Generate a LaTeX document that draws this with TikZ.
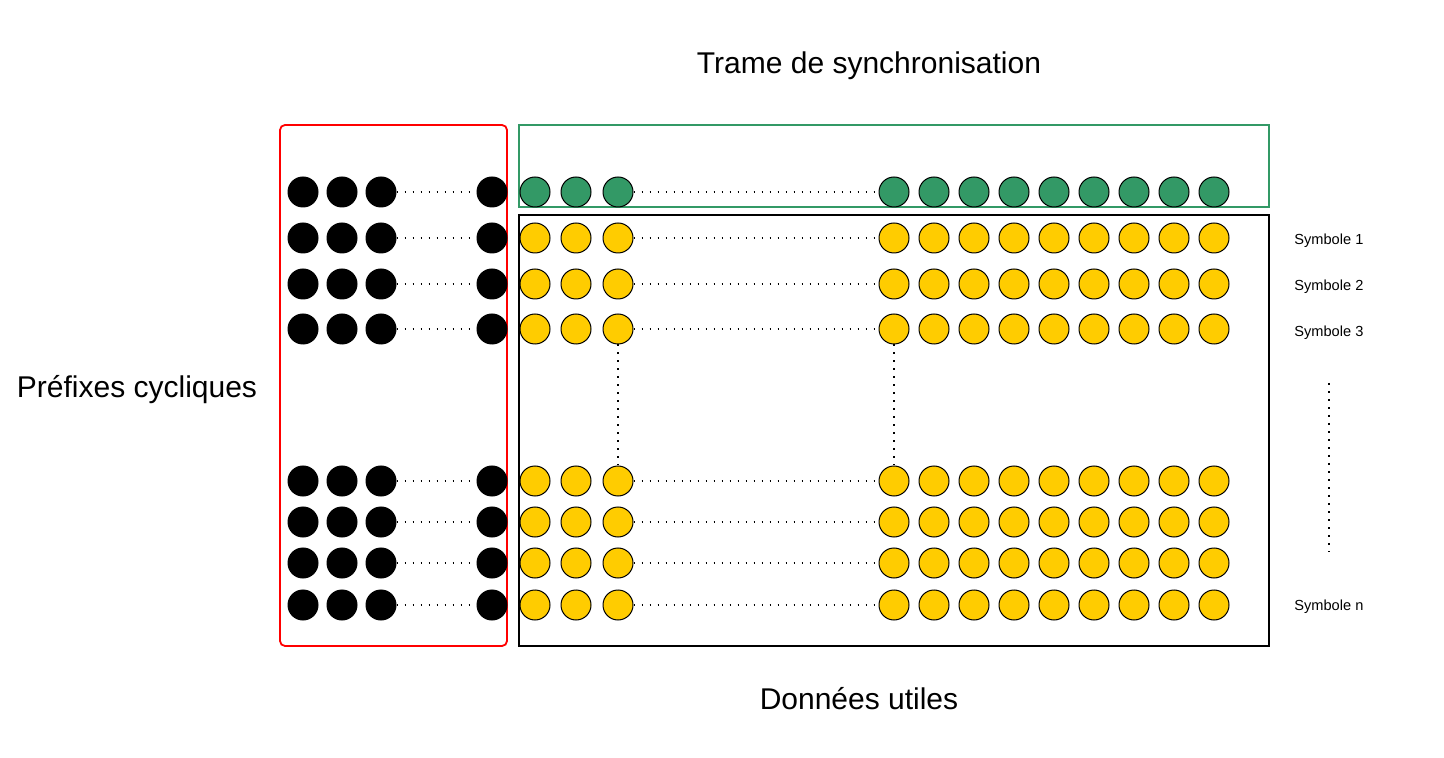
\documentclass[tikz,border=0pt]{standalone}
\usepackage{fontspec}
\setmainfont{Liberation Sans}
\usepackage{tikz}
\definecolor{SYNCgreen}{HTML}{339966}
\definecolor{DATAyellow}{HTML}{FFCC00}
\definecolor{CPred}{HTML}{FF0000}
\tikzset{
  pastille/.style={circle,minimum size=15pt,inner sep=0pt,line width=0.5pt,draw=black},
  cpdot/.style={pastille,fill=black},
  syncdot/.style={pastille,fill=SYNCgreen},
  datadot/.style={pastille,fill=DATAyellow},
  pointille/.style={line width=0.9pt,dash pattern=on 0.9pt off 3.1pt},
  cadre/.style={line width=0.9pt},
  grandtitre/.style={font=\fontsize{15}{18}\selectfont},
  petittitre/.style={font=\fontsize{7.3}{9}\selectfont,anchor=west,inner sep=0pt}
}

\begin{document}
\begin{tikzpicture}[x=0.5pt,y=-0.5pt]
    \useasboundingbox (0,0) rectangle (1444,758);
    % cadres
    \draw[cadre,CPred,rounded corners=2.5pt] (280,125) rectangle (507,646);
    \draw[cadre,SYNCgreen] (519,125) rectangle (1269,207);
    \draw[cadre,black] (519,215) rectangle (1269,646);
    % prefixes cycliques
    \foreach \y [count=\r] in {192,238,284,329,481,522,563,605} {
      \foreach \x [count=\c] in {303,342,381,492}
        \node[cpdot] (cp\r-\c) at (\x,\y) {};
      \draw[pointille] (cp\r-3) -- (cp\r-4);
    }
    % trame de synchronisation
    \foreach \x [count=\c] in {535,576,618,894,934,...,1214}
      \node[syncdot] (s\c) at (\x,192) {};
    \draw[pointille] (s3) -- (s4);
    % donnees utiles
    \foreach \y [count=\r] in {238,284,329,481,522,563,605} {
      \foreach \x [count=\c] in {535,576,618,894,934,...,1214}
        \node[datadot] (d\r-\c) at (\x,\y) {};
      \draw[pointille] (d\r-3) -- (d\r-4);
    }
    \draw[pointille] (d3-3) -- (d4-3);
    \draw[pointille] (d3-4) -- (d4-4);
    % symboles
    \node[petittitre] (sym1) at (1294,241) {Symbole 1};
    \node[petittitre] (sym2) at (1294,287) {Symbole 2};
    \node[petittitre] (sym3) at (1294,333) {Symbole 3};
    \node[petittitre] (symn) at (1294,607) {Symbole n};
    \coordinate (suiteA) at (1329,383);
    \coordinate (suiteB) at (1329,552);
    \draw[pointille] (suiteA) -- (suiteB);
    % legendes
    \node[grandtitre] (sync) at (869,66) {Trame de synchronisation};
    \node[grandtitre] (utiles) at (859,699) {Données utiles};
    \node[grandtitre] (prefixes) at (137,390) {Préfixes cycliques};
\end{tikzpicture}
\end{document}
